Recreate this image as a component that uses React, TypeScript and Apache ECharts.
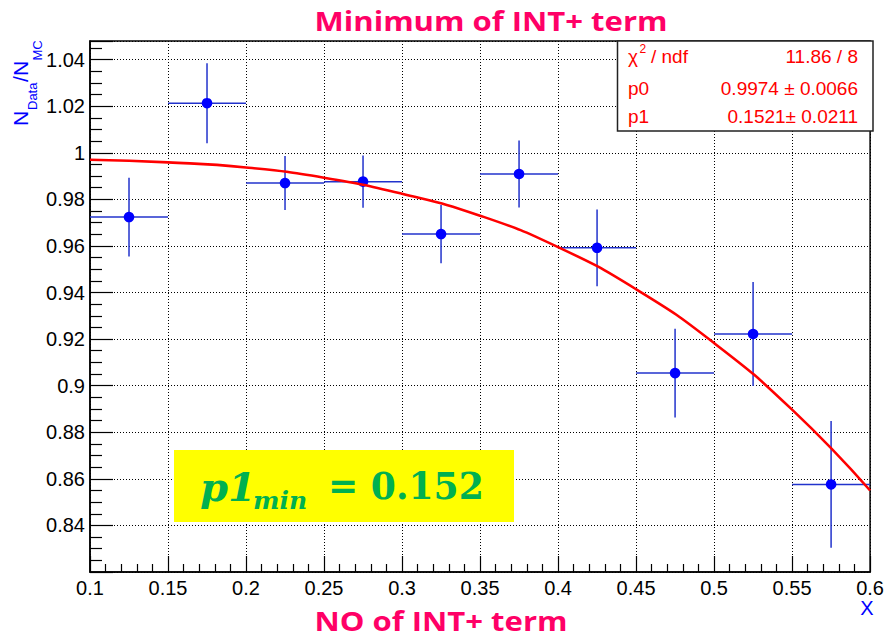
import React, { useEffect, useRef } from "react";
import * as echarts from "echarts";

// ---- data ----
const binCenters = [0.125, 0.175, 0.225, 0.275, 0.325, 0.375, 0.425, 0.475, 0.525, 0.575];
const binHalfWidths = [0.025, 0.025, 0.025, 0.025, 0.025, 0.025, 0.025, 0.025, 0.025, 0.025];
const ratios = [0.9724, 1.0213, 0.987, 0.9876, 0.9651, 0.9909, 0.9592, 0.9054, 0.9222, 0.8576];
const ratioErrors = [0.0169, 0.0172, 0.0116, 0.0112, 0.0125, 0.0144, 0.0165, 0.0191, 0.0223, 0.0272];

const fitX = [0.1, 0.15, 0.2, 0.25, 0.3, 0.35, 0.4, 0.45, 0.5, 0.55, 0.6];
const fitY = [0.997, 0.9959, 0.9937, 0.9893, 0.9824, 0.973, 0.9595, 0.9414, 0.9183, 0.8897, 0.855];

const statNames = ["p0", "p1"];
const statValues = ["0.9974 ± 0.0066", "0.1521± 0.0211"];
const chi2Text = "11.86 / 8";

const fmt = (v: number) => String(Math.round(v * 100) / 100);

export default function App() {
  const ref = useRef<HTMLDivElement>(null);
  useEffect(() => {
    if (!ref.current) return;
    const chart = echarts.init(ref.current, undefined, { renderer: "svg" });
    const sans = "Liberation Sans";
    const errData = binCenters.map((x, i) => [x, ratios[i], binHalfWidths[i], ratioErrors[i]]);
    const fitData = fitX.map((x, i) => [x, fitY[i]]);
    const red = "#ff0000";
    const statText = (text: string, x: number, y: number, align: string, size = 19) => ({
      type: "text", x, y, z: 101,
      style: { text, fill: red, fontFamily: sans, fontSize: size, align, verticalAlign: "middle" },
    });
    const option: any = {
      animation: false,
      backgroundColor: "#ffffff",
      grid: { left: 90, right: 14, top: 41, bottom: 69, show: true, borderColor: "#000", borderWidth: 1.5, containLabel: false },
      xAxis: {
        type: "value",
        min: 0.1,
        max: 0.6,
        interval: 0.05,
        axisLine: { show: true, onZero: false, lineStyle: { color: "#000", width: 1.5 } },
        axisTick: { show: true, inside: true, length: 16, lineStyle: { color: "#000", width: 1.2 } },
        minorTick: { show: true, splitNumber: 5, length: 8, lineStyle: { color: "#000", width: 1.2 } },
        splitLine: { show: true, lineStyle: { color: "#000", type: [1, 2], width: 1 } },
        axisLabel: { fontSize: 20, color: "#000", fontFamily: sans, margin: 6, formatter: fmt },
      },
      yAxis: {
        type: "value",
        min: 0.82,
        max: 1.048,
        interval: 0.02,
        axisLine: { show: true, onZero: false, lineStyle: { color: "#000", width: 1.5 } },
        axisTick: { show: true, inside: true, length: 23, lineStyle: { color: "#000", width: 1.2 } },
        minorTick: { show: true, splitNumber: 4, length: 12, lineStyle: { color: "#000", width: 1.2 } },
        splitLine: { show: true, lineStyle: { color: "#000", type: [1, 2], width: 1 } },
        axisLabel: { fontSize: 20, color: "#000", fontFamily: sans, margin: 5, formatter: fmt, showMinLabel: false, showMaxLabel: false },
      },
      series: [
        {
          type: "custom",
          z: 3,
          data: errData,
          encode: { x: 0, y: 1 },
          renderItem: (params: any, api: any) => {
            const x = api.value(0), y = api.value(1), ex = api.value(2), ey = api.value(3);
            const c = api.coord([x, y]);
            const l = api.coord([x - ex, y]);
            const r = api.coord([x + ex, y]);
            const t = api.coord([x, y + ey]);
            const b = api.coord([x, y - ey]);
            const st = { stroke: "#2233cc", lineWidth: 1.5 };
            return {
              type: "group",
              children: [
                { type: "line", shape: { x1: l[0], y1: l[1], x2: r[0], y2: r[1] }, style: st },
                { type: "line", shape: { x1: t[0], y1: t[1], x2: b[0], y2: b[1] }, style: st },
                { type: "circle", shape: { cx: c[0], cy: c[1], r: 5.3 }, style: { fill: "#0000ff" } },
              ],
            };
          },
        },
        {
          type: "line",
          z: 4,
          data: fitData,
          smooth: true,
          showSymbol: false,
          symbol: "none",
          lineStyle: { color: red, width: 2.6 },
        },
      ],
      graphic: [
        {
          type: "text", x: 491, y: 21, z: 100, scaleX: 1.15,
          style: { text: "Minimum of INT+ term", fill: "#ff0066", fontFamily: "Open Sans", fontWeight: "bold", fontSize: 27, align: "center", verticalAlign: "middle" },
        },
        {
          type: "text", x: 441, y: 621, z: 100, scaleX: 1.15,
          style: { text: "NO of INT+ term", fill: "#ff0066", fontFamily: "Open Sans", fontWeight: "bold", fontSize: 27, align: "center", verticalAlign: "middle" },
        },
        {
          type: "text", x: 867, y: 608, z: 100,
          style: { text: "X", fill: "#0000ff", fontFamily: sans, fontSize: 20, align: "center", verticalAlign: "middle" },
        },
        {
          type: "group", x: 0, y: 126, rotation: Math.PI / 2, z: 100,
          children: [
            { type: "text", x: 0, y: 20, style: { text: "N", fill: "#0000ff", fontFamily: sans, fontSize: 21, align: "left", verticalAlign: "middle" } },
            { type: "text", x: 16, y: 32, style: { text: "Data", fill: "#0000ff", fontFamily: sans, fontSize: 13, align: "left", verticalAlign: "middle" } },
            { type: "text", x: 44, y: 20, style: { text: "/", fill: "#0000ff", fontFamily: sans, fontSize: 21, align: "left", verticalAlign: "middle" } },
            { type: "text", x: 50, y: 20, style: { text: "N", fill: "#0000ff", fontFamily: sans, fontSize: 21, align: "left", verticalAlign: "middle" } },
            { type: "text", x: 65.5, y: 37.5, style: { text: "MC", fill: "#0000ff", fontFamily: sans, fontSize: 13, align: "left", verticalAlign: "middle" } },
          ],
        },
        {
          type: "rect", z: 100,
          shape: { x: 617.5, y: 41, width: 255.5, height: 90 },
          style: { fill: "#ffffff", stroke: "#222", lineWidth: 1.5 },
        },
        statText("χ", 628, 56, "left"),
        statText("2", 639.5, 49, "left", 12),
        statText("/ ndf", 651, 56, "left"),
        statText(chi2Text, 858, 56, "right"),
        statText(statNames[0], 628, 88.5, "left"),
        statText(statValues[0], 858, 88.5, "right"),
        statText(statNames[1], 628, 116.5, "left"),
        statText(statValues[1], 858, 116.5, "right"),
        {
          type: "rect", z: 100,
          shape: { x: 174, y: 450, width: 340, height: 72 },
          style: { fill: "#ffff00" },
        },
        { type: "text", x: 200, y: 486, z: 101, style: { text: "p1", fill: "#00b050", fontFamily: "DejaVu Serif", fontWeight: "bold", fontStyle: "italic", fontSize: 40, align: "left", verticalAlign: "middle" } },
        { type: "text", x: 253, y: 500, z: 101, style: { text: "min", fill: "#00b050", fontFamily: "DejaVu Serif", fontWeight: "bold", fontStyle: "italic", fontSize: 25, align: "left", verticalAlign: "middle" } },
        { type: "text", x: 328, y: 486, z: 101, scaleX: 0.95, style: { text: "= 0.152", fill: "#00b050", fontFamily: "DejaVu Serif", fontWeight: "bold", fontSize: 38, align: "left", verticalAlign: "middle" } },
      ],
    };
    chart.setOption(option);
    return () => chart.dispose();
  }, []);
  return <div ref={ref} style={{ width: 887, height: 641, position: "absolute", left: 0, top: 0 }} />;
}
